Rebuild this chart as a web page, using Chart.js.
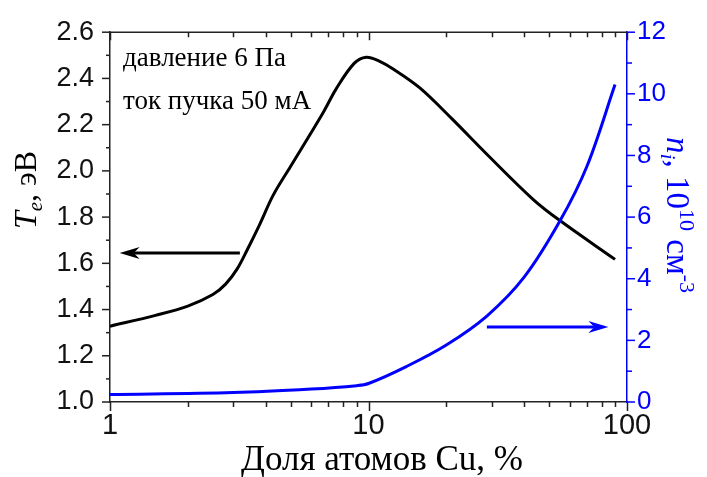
<!DOCTYPE html>
<html>
<head>
<meta charset="utf-8">
<script src="https://cdn.jsdelivr.net/npm/chart.js@4"></script>
<style>
  html, body { margin: 0; padding: 0; background: #fff; }
</style>
</head>
<body>
<canvas id="chart" width="707" height="477"></canvas>
<script>
// Te (eV) vs Cu atom fraction (%)
var teShare = [1, 1.5, 2, 2.5, 2.8, 3.1, 3.4, 3.8, 4.28, 5.0, 6.69, 7.5, 8.8, 9.8, 11, 12.5, 15.8, 21, 28.7, 43.4, 55, 89.9];
var teValues = [1.328, 1.375, 1.415, 1.465, 1.51, 1.575, 1.66, 1.77, 1.895, 2.02, 2.254, 2.355, 2.465, 2.492, 2.475, 2.44, 2.359, 2.226, 2.072, 1.876, 1.785, 1.617];

// n_i (10^10 cm^-3) vs Cu atom fraction (%)
var niShare = [1, 3.0, 6, 9.0, 10, 14, 20, 28.7, 40, 55, 70, 89.9];
var niValues = [0.24, 0.305, 0.42, 0.53, 0.6, 1.15, 1.85, 2.79, 4.05, 5.87, 7.65, 10.3];

// axis ticks
var xLabelTicks = [1, 10, 100];
var xMinorTicks = [2, 3, 4, 5, 6, 7, 8, 9, 20, 30, 40, 50, 60, 70, 80, 90];
var teMinorTicks = [1.1, 1.3, 1.5, 1.7, 1.9, 2.1, 2.3, 2.5];
var niMinorTicks = [1, 3, 5, 7, 9, 11];

// annotations: text labels and arrows (data coords)
var noteLines = ["давление 6 Па", "ток пучка 50 мА"];
var noteShare = [1.123, 1.123];
var noteTe = [2.453, 2.268];
var teArrow = [3.18, 1.09, 1.645];   // from x, to x, Te
var niArrow = [28.7, 84.7, 2.43];    // from x, to x, n_i

var BLUE = "#0000ff";
var DARK = "#222222";

function toPoints(xs, ys) {
  return xs.map(function (x, i) {
    return { x: x, y: ys[i] };
  });
}

function drawRich(ctx, parts) {
  var w = 0;
  parts.forEach(function (p) {
    ctx.font = p[1];
    w += ctx.measureText(p[0]).width;
  });
  var cx = -w / 2;
  parts.forEach(function (p) {
    ctx.font = p[1];
    ctx.fillText(p[0], cx, p[2]);
    cx += ctx.measureText(p[0]).width;
  });
}

function arrow(ctx, x1, x2, y, color) {
  ctx.strokeStyle = color;
  ctx.fillStyle = color;
  ctx.lineWidth = 3;
  var dir = x2 > x1 ? 1 : -1;
  ctx.beginPath();
  ctx.moveTo(x1, y);
  ctx.lineTo(x2 - dir * 14, y);
  ctx.stroke();
  ctx.beginPath();
  ctx.moveTo(x2, y);
  ctx.lineTo(x2 - dir * 20, y - 6);
  ctx.lineTo(x2 - dir * 14, y);
  ctx.lineTo(x2 - dir * 20, y + 6);
  ctx.closePath();
  ctx.fill();
}

var decorPlugin = {
  id: "decor",
  afterDraw: function (chart) {
    var ctx = chart.ctx;
    var a = chart.chartArea;
    var sx = chart.scales.x, sy = chart.scales.y, sn = chart.scales.y1;
    ctx.save();

    // top frame line
    ctx.strokeStyle = DARK;
    ctx.lineWidth = 1.5;
    ctx.beginPath();
    ctx.moveTo(a.left, a.top);
    ctx.lineTo(a.right, a.top);
    ctx.stroke();

    // x ticks bottom and top
    xLabelTicks.concat(xMinorTicks).forEach(function (v) {
      var major = xLabelTicks.indexOf(v) >= 0;
      var px = Math.round(sx.getPixelForValue(v)) + 0.5;
      ctx.beginPath();
      ctx.moveTo(px, a.bottom);
      ctx.lineTo(px, a.bottom + (major ? 9 : 5));
      ctx.moveTo(px, a.top);
      ctx.lineTo(px, a.top + (major ? 8 : 5));
      ctx.stroke();
    });

    // left ticks
    sy.ticks.forEach(function (t) {
      var py = sy.getPixelForValue(t.value);
      ctx.beginPath();
      ctx.moveTo(a.left - 8, py);
      ctx.lineTo(a.left, py);
      ctx.stroke();
    });
    teMinorTicks.forEach(function (v) {
      var py = sy.getPixelForValue(v);
      ctx.beginPath();
      ctx.moveTo(a.left - 4, py);
      ctx.lineTo(a.left, py);
      ctx.stroke();
    });

    // right ticks
    ctx.strokeStyle = BLUE;
    sn.ticks.forEach(function (t) {
      var py = sn.getPixelForValue(t.value);
      ctx.beginPath();
      ctx.moveTo(a.right, py);
      ctx.lineTo(a.right + 8, py);
      ctx.stroke();
    });
    niMinorTicks.forEach(function (v) {
      var py = sn.getPixelForValue(v);
      ctx.beginPath();
      ctx.moveTo(a.right, py);
      ctx.lineTo(a.right + 5, py);
      ctx.stroke();
    });

    // arrows
    arrow(ctx, sx.getPixelForValue(teArrow[0]), sx.getPixelForValue(teArrow[1]), sy.getPixelForValue(teArrow[2]), "#000");
    arrow(ctx, sx.getPixelForValue(niArrow[0]), sx.getPixelForValue(niArrow[1]), sn.getPixelForValue(niArrow[2]), BLUE);

    // notes
    ctx.fillStyle = "#000";
    ctx.font = "27px 'Liberation Serif'";
    ctx.textAlign = "left";
    ctx.textBaseline = "alphabetic";
    noteLines.forEach(function (s, i) {
      ctx.fillText(s, sx.getPixelForValue(noteShare[i]), sy.getPixelForValue(noteTe[i]));
    });

    // x title
    ctx.font = "35px 'Liberation Serif'";
    ctx.textAlign = "center";
    ctx.fillText("Доля атомов Cu, %", 382, 470);
    ctx.textAlign = "left";

    // left title
    ctx.save();
    ctx.translate(36, 190);
    ctx.rotate(-Math.PI / 2);
    drawRich(ctx, [
      ["T", "italic 32px 'Liberation Serif'", 0],
      ["e", "italic 21px 'Liberation Serif'", 6],
      [", эВ", "32px 'Liberation Serif'", 0]
    ]);
    ctx.restore();

    // right title
    ctx.save();
    ctx.fillStyle = BLUE;
    ctx.translate(667, 215);
    ctx.rotate(Math.PI / 2);
    drawRich(ctx, [
      ["n", "italic 33px 'Liberation Serif'", 0],
      ["i", "italic 22px 'Liberation Serif'", 6],
      [", 10", "33px 'Liberation Serif'", 0],
      ["10", "22px 'Liberation Serif'", -13],
      [" см", "33px 'Liberation Serif'", 0],
      ["-3", "22px 'Liberation Serif'", -13]
    ]);
    ctx.restore();

    ctx.restore();
  }
};

new Chart(document.getElementById("chart"), {
  type: "line",
  data: {
    datasets: [
      {
        data: toPoints(niShare, niValues),
        yAxisID: "y1",
        borderColor: BLUE,
        borderWidth: 3,
        pointRadius: 0,
        tension: 0.35,
        order: 0
      },
      {
        data: toPoints(teShare, teValues),
        yAxisID: "y",
        borderColor: "#000",
        borderWidth: 3,
        pointRadius: 0,
        tension: 0.35,
        order: 1
      }
    ]
  },
  options: {
    responsive: false,
    animation: false,
    layout: { padding: { top: 21, left: 0, right: 0, bottom: 0 } },
    plugins: { legend: { display: false }, tooltip: { enabled: false } },
    scales: {
      x: {
        type: "logarithmic",
        min: 1,
        max: 100,
        grid: { display: false, drawTicks: false },
        border: { display: true, color: DARK, width: 1.5 },
        ticks: {
          autoSkip: false,
          maxRotation: 0,
          padding: 7,
          color: "#111",
          font: { family: "'Liberation Sans'", size: 29 },
          callback: function (v) {
            return xLabelTicks.indexOf(v) >= 0 ? String(v) : "";
          }
        },
        afterFit: function (s) { s.height = 75; }
      },
      y: {
        position: "left",
        min: 1,
        max: 2.6,
        grid: { display: false, drawTicks: false },
        border: { display: true, color: DARK, width: 1.5 },
        ticks: {
          stepSize: 0.2,
          padding: 16,
          color: "#111",
          font: { family: "'Liberation Sans'", size: 27 },
          callback: function (v) { return v.toFixed(1); }
        },
        afterFit: function (s) { s.width = 110; }
      },
      y1: {
        position: "right",
        min: 0,
        max: 12,
        grid: { display: false, drawTicks: false },
        border: { display: true, color: BLUE, width: 1.5 },
        ticks: {
          stepSize: 2,
          padding: 10,
          color: BLUE,
          font: { family: "'Liberation Sans'", size: 26 }
        },
        afterFit: function (s) { s.width = 80; }
      }
    }
  },
  plugins: [decorPlugin]
});
</script>
</body>
</html>
